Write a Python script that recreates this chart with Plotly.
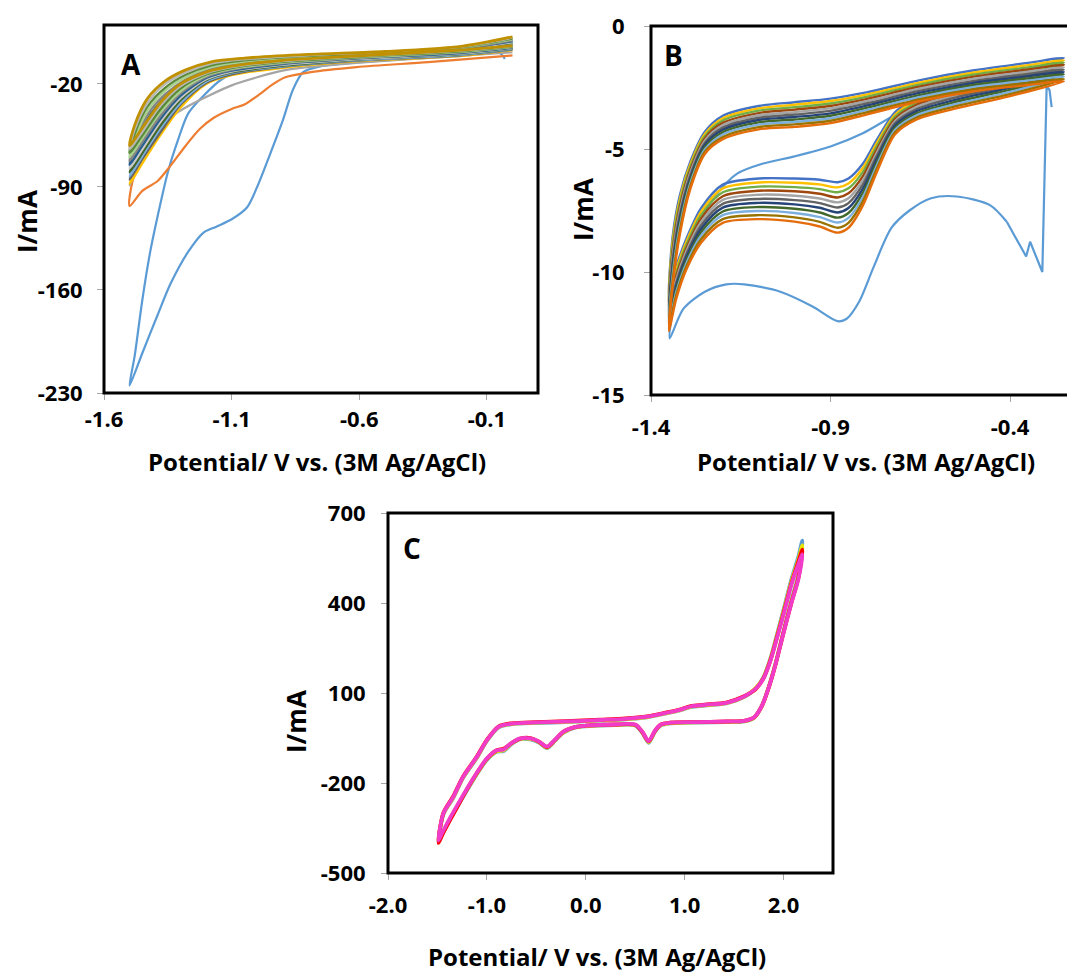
import plotly.graph_objects as go

# page is shown with an 8px body margin, so the figure is 8px smaller than the window
OFF = 8
W, H = 1075 - OFF, 974 - OFF

# ---------------- Panel A data ----------------
A_XTICKS = [-1.6, -1.1, -0.6, -0.1]
A_XTICKTEXT = ["-1.6", "-1.1", "-0.6", "-0.1"]
A_YTICKS = [-230, -160, -90, -20]
A_YTICKTEXT = ["-230", "-160", "-90", "-20"]

A_blue_x = [-0.03, -0.05, -0.2, -0.5, -0.75, -0.82, -0.86, -0.9, -0.95, -1.0, -1.04, -1.1, -1.16, -1.21, -1.27,
            -1.34, -1.39, -1.45, -1.5, -1.48, -1.45, -1.42, -1.39, -1.35, -1.31, -1.27, -1.21, -1.14, -1.05, -0.9,
            -0.6, -0.3, -0.1, 0.0]
A_blue_y = [-3, 1, -1, -4, -8, -12, -24, -45, -68, -90, -104, -112, -117, -121, -134,
            -156, -177, -203, -225, -205, -167, -135, -110, -80, -58, -40, -28, -17, -10, -5,
            0, 3, 6, 9]

A_orange_x = [0.0, -0.33, -0.61, -0.79, -0.89, -0.945, -0.99, -1.05, -1.1, -1.17, -1.225, -1.28, -1.34, -1.39,
              -1.45, -1.5, -1.488, -1.45, -1.4, -1.35, -1.3, -1.2, -1.1, -1.0, -0.8, -0.5, -0.2, 0.0]
A_orange_y = [-0.7, -5.2, -8.6, -12, -15.5, -21, -27, -34, -37, -43, -50.7, -62, -75.7, -86,
              -92.7, -103, -86, -70, -53, -40, -30, -18, -11, -7, -3.5, -0.5, 3, 6]

A_gray_x = [0.0, -0.3, -0.6, -0.82, -0.9, -1.0, -1.1, -1.19, -1.28, -1.35, -1.42, -1.47, -1.5, -1.48, -1.43,
            -1.36, -1.28, -1.18, -1.05, -0.8, -0.5, -0.2, 0.0]
A_gray_y = [1.5, -2, -5.5, -9, -11, -15.5, -21, -28, -36, -44, -62, -78, -89, -80, -60,
            -41, -28, -17.5, -10.5, -5, -1.5, 2, 6]

A_cycle_x = [0.0, -0.2, -0.6, -0.9, -1.1, -1.2, -1.3, -1.38, -1.45, -1.5,
             -1.48, -1.43, -1.36, -1.28, -1.18, -1.05, -0.8, -0.5, -0.2, 0.0]
A_cycles = [
    [3, -1, -4.5, -9, -14, -20, -36, -55, -74, -88, -79, -58, -40, -27, -17, -10, -5, -1.5, 2, 6],
    [3.3, -0.6, -4.2, -8.4, -13.5, -19.3, -34, -53, -71, -85, -76, -55, -38, -25.5, -15.8, -9.2, -4.6, -1.1, 2.3, 6.5],
    [3.6, -0.2, -3.8, -8, -12.7, -18.5, -33, -50.5, -69, -83, -73, -52.5, -35.5, -23.7, -14.6, -8.5, -4, -0.8, 2.7, 7.3],
    [3.9, 0.2, -3.4, -7.6, -12.2, -17.5, -31, -48.5, -67, -80, -70, -49.5, -33.5, -22, -13.4, -7.8, -3.5, -0.4, 3.1, 7.8],
    [4.2, 0.6, -3.1, -7, -11.6, -16.8, -29.5, -46, -64.5, -77.5, -66.5, -47, -31, -20.4, -12.2, -7, -3, -0.1, 3.4, 8.4],
    [4.5, 1, -2.7, -6.5, -11, -16, -28, -44, -62, -75, -63.5, -44, -29, -18.8, -11, -6.2, -2.5, 0.3, 3.7, 9],
    [4.8, 1.4, -2.4, -6, -10.4, -15.2, -26.5, -42, -59.5, -72.5, -60.5, -41, -27, -17, -9.8, -5.5, -2, 0.6, 4.1, 9.6],
    [5.1, 1.8, -2, -5.5, -9.8, -14.4, -25, -39.5, -57, -70, -57.5, -38.5, -24.5, -15.5, -8.6, -4.8, -1.5, 1, 4.5, 10.2],
    [5.4, 2.2, -1.7, -5, -9.2, -13.6, -23, -37.5, -55, -67, -54, -35.5, -22.5, -13.8, -7.4, -4, -1, 1.3, 4.8, 10.8],
    [5.7, 2.6, -1.3, -4.5, -8.6, -12.8, -21.5, -35, -52.5, -64.5, -51, -33, -20, -12.2, -6.2, -3.3, -0.5, 1.7, 5.2, 11.4],
    [6, 3, -1, -4, -8, -12, -20, -33, -50, -62, -48, -30, -18, -10.5, -5, -2.5, 0, 2, 5.5, 12],
]
A_cycle_colors = ["#FFC000", "#636363", "#7CAFDD", "#43682B", "#C9C9C9", "#255E91",
                  "#848484", "#A9D18E", "#5A8A39", "#B7B7B7", "#BF9000"]

# ---------------- Panel B data ----------------
B_XTICKS = [-1.4, -0.9, -0.4]
B_XTICKTEXT = ["-1.4", "-0.9", "-0.4"]
B_YTICKS = [0, -5, -10, -15]
B_YTICKTEXT = ["0", "-5", "-10", "-15"]

B_first_start_x = [-0.284, -0.29, -0.298, -0.31, -0.344, -0.355, -0.409]
B_first_start_y = [-3.3, -2.6, -2.45, -10.0, -8.77, -9.37, -7.96]
B_first_x = [-0.409, -0.456, -0.548, -0.62, -0.68, -0.73, -0.78, -0.82, -0.855, -0.88, -0.95, -1.04, -1.14,
             -1.19, -1.25, -1.31, -1.348, -1.33, -1.30, -1.26, -1.215, -1.16, -1.09, -1.0, -0.9, -0.81, -0.71,
             -0.6, -0.47, -0.35, -0.25]
B_first_y = [-7.96, -7.28, -6.93, -7.0, -7.5, -8.2, -9.8, -11.2, -11.9, -12.0, -11.4, -10.8, -10.5,
             -10.5, -10.8, -11.5, -12.7, -10.8, -9.3, -7.85, -6.8, -6.0, -5.6, -5.3, -4.9, -4.36, -3.55,
             -3.0, -2.55, -2.2, -1.9]

B_cycle_x = [-0.25, -0.4, -0.55, -0.66, -0.72, -0.77, -0.81, -0.85, -0.88, -0.93, -1.0, -1.1, -1.2, -1.26,
             -1.3, -1.33, -1.35, -1.34, -1.32, -1.29, -1.25, -1.2, -1.1, -1.0, -0.9, -0.8, -0.65, -0.5, -0.35, -0.25]
B_cycles = [
    [-1.3, -2.0, -2.45, -2.95, -3.5, -4.6, -5.6, -6.2, -6.35, -6.25, -6.2, -6.2, -6.45, -7.4, -8.6, -9.8, -11.0,
     -8.6, -6.9, -5.5, -4.3, -3.65, -3.25, -3.1, -2.95, -2.7, -2.2, -1.8, -1.5, -1.3],
    [-1.4, -2.08, -2.54, -3.03, -3.6, -4.73, -5.77, -6.4, -6.56, -6.44, -6.37, -6.36, -6.6, -7.54, -8.72, -9.93, -11.14,
     -8.8, -7.06, -5.61, -4.39, -3.75, -3.35, -3.2, -3.05, -2.79, -2.29, -1.89, -1.59, -1.4],
    [-1.49, -2.17, -2.63, -3.12, -3.68, -4.86, -5.94, -6.6, -6.76, -6.63, -6.55, -6.53, -6.76, -7.68, -8.85, -10.06, -11.28,
     -9.0, -7.22, -5.72, -4.48, -3.84, -3.44, -3.3, -3.15, -2.88, -2.37, -1.97, -1.68, -1.49],
    [-1.58, -2.25, -2.72, -3.2, -3.77, -4.99, -6.11, -6.8, -6.97, -6.82, -6.72, -6.7, -6.92, -7.82, -8.98, -10.19, -11.42,
     -9.2, -7.38, -5.83, -4.57, -3.94, -3.54, -3.4, -3.25, -2.97, -2.46, -2.06, -1.77, -1.58],
    [-1.68, -2.34, -2.81, -3.29, -3.86, -5.12, -6.28, -7.0, -7.17, -7.01, -6.9, -6.86, -7.07, -7.96, -9.1, -10.32, -11.56,
     -9.4, -7.54, -5.94, -4.66, -4.03, -3.63, -3.5, -3.35, -3.06, -2.54, -2.14, -1.86, -1.68],
    [-1.78, -2.43, -2.9, -3.38, -3.95, -5.25, -6.45, -7.2, -7.38, -7.2, -7.08, -7.03, -7.23, -8.1, -9.23, -10.45, -11.7,
     -9.6, -7.7, -6.05, -4.75, -4.13, -3.73, -3.6, -3.45, -3.15, -2.63, -2.23, -1.95, -1.78],
    [-1.87, -2.51, -2.99, -3.46, -4.04, -5.38, -6.62, -7.4, -7.58, -7.39, -7.25, -7.19, -7.38, -8.24, -9.35, -10.58, -11.84,
     -9.8, -7.86, -6.16, -4.84, -4.22, -3.82, -3.7, -3.55, -3.24, -2.71, -2.31, -2.04, -1.87],
    [-1.97, -2.6, -3.08, -3.55, -4.13, -5.51, -6.79, -7.6, -7.79, -7.58, -7.43, -7.36, -7.54, -8.38, -9.48, -10.71, -11.98,
     -10.0, -8.02, -6.27, -4.93, -4.32, -3.92, -3.8, -3.65, -3.33, -2.8, -2.4, -2.13, -1.97],
    [-2.06, -2.68, -3.17, -3.63, -4.22, -5.64, -6.96, -7.8, -7.99, -7.77, -7.6, -7.52, -7.69, -8.52, -9.6, -10.84, -12.12,
     -10.2, -8.18, -6.38, -5.02, -4.41, -4.01, -3.9, -3.75, -3.42, -2.88, -2.48, -2.22, -2.06],
    [-2.16, -2.77, -3.26, -3.72, -4.31, -5.77, -7.13, -8.0, -8.2, -7.96, -7.78, -7.69, -7.85, -8.66, -9.73, -10.97, -12.26,
     -10.4, -8.34, -6.49, -5.11, -4.51, -4.11, -4.0, -3.85, -3.51, -2.97, -2.57, -2.31, -2.16],
    [-2.25, -2.85, -3.35, -3.8, -4.4, -5.9, -7.3, -8.2, -8.4, -8.15, -7.95, -7.85, -8.0, -8.8, -9.85, -11.1, -12.4,
     -10.6, -8.5, -6.6, -5.2, -4.6, -4.2, -4.1, -3.95, -3.6, -3.05, -2.65, -2.4, -2.25],
]
B_cycle_colors = ["#4472C4", "#FFC000", "#70AD47", "#9E480E", "#A5A5A5", "#636363",
                  "#264478", "#43682B", "#7CAFDD", "#997300", "#E46C0A"]

# ---------------- Panel C data ----------------
C_XTICKS = [-2.0, -1.0, 0.0, 1.0, 2.0]
C_XTICKTEXT = ["-2.0", "-1.0", "0.0", "1.0", "2.0"]
C_YTICKS = [-500, -200, 100, 400, 700]
C_YTICKTEXT = ["-500", "-200", "100", "400", "700"]

C_x = [-1.49, -1.44, -1.34, -1.24, -1.10, -1.0, -0.88, -0.75, -0.5, -0.2, 0.15, 0.4, 0.62, 0.8, 0.95, 1.06, 1.2,
       1.43, 1.6, 1.72, 1.8, 1.87, 1.92, 2.0, 2.08, 2.15, 2.19,
       2.15, 2.08, 2.0, 1.92, 1.85, 1.78, 1.7, 1.6, 1.43, 1.1, 0.85, 0.76, 0.70, 0.636, 0.57, 0.50, 0.3, 0.0, -0.1,
       -0.225, -0.31, -0.393, -0.47, -0.56, -0.663, -0.75, -0.83, -0.9, -1.0, -1.1, -1.2, -1.27, -1.37, -1.45, -1.49]
C_blue = [-398, -305, -250, -183, -116, -60, -15, -4, 0, 3, 8, 12, 19, 31, 42, 53, 58, 66, 86, 116, 155, 218, 278, 378, 480, 555, 608,
          495, 410, 306, 200, 120, 57, 17, 5, 3, 1, -1, -8, -29, -66, -32, -8, -7, -11, -15, -32, -59, -84, -66, -55, -54, -70,
          -93, -96, -123, -170, -224, -263, -320, -370, -398]
C_yellow = [-396, -303, -248, -181, -114, -58, -13, -3, 1, 4, 9, 13, 20, 32, 43, 54, 59, 67, 87, 117, 153, 215, 274, 372, 472, 545, 592,
            488, 405, 303, 198, 119, 56, 17, 6, 4, 2, 0, -7, -27, -64, -30, -7, -6, -10, -14, -31, -57, -82, -64, -53, -53, -68,
            -91, -94, -121, -168, -221, -260, -318, -368, -396]
C_red = [-400, -300, -244, -178, -111, -56, -11, -1, 3, 6, 11, 15, 22, 34, 45, 56, 61, 69, 89, 114, 151, 212, 270, 366, 466, 538, 578,
         484, 402, 302, 197, 118, 56, 18, 7, 5, 3, 1, -5, -26, -61, -29, -6, -5, -9, -13, -29, -56, -80, -63, -50, -52, -67,
         -86, -91, -119, -166, -220, -262, -322, -372, -400]
C_magenta = [-392, -301, -246, -179, -112, -57, -12, -2, 2, 5, 10, 14, 21, 33, 44, 55, 60, 68, 88, 115, 150, 210, 267, 362, 462, 530, 562,
             480, 400, 300, 196, 118, 56, 18, 7, 5, 3, 1, -5, -25, -60, -28, -5, -5, -9, -13, -29, -55, -79, -62, -51, -51, -66,
             -88, -91, -118, -165, -218, -257, -315, -365, -392]
C_series = [C_blue, C_yellow, C_red, C_magenta]
C_colors = ["#5B9BD5", "#E6E600", "#FF0000", "#F03CC8"]

AX_TITLE = "Potential/ V vs. (3M Ag/AgCl)"
Y_TITLE = "I/mA"

# ---------------- Figure ----------------
fig = go.Figure()


def line(x, y, color, width, xa, ya, shape="spline"):
    fig.add_trace(go.Scatter(x=x, y=y, mode="lines", xaxis=xa, yaxis=ya,
                             line=dict(color=color, width=width, shape=shape, smoothing=0.8),
                             hoverinfo="skip", showlegend=False))


line(A_blue_x, A_blue_y, "#5B9BD5", 2.2, "x", "y")
line(A_orange_x, A_orange_y, "#ED7D31", 2.2, "x", "y")
line(A_gray_x, A_gray_y, "#A5A5A5", 2.2, "x", "y")
for ys, c in zip(A_cycles, A_cycle_colors):
    line(A_cycle_x, ys, c, 2.8 if c == "#BF9000" else 2.4, "x", "y")

line(B_first_start_x, B_first_start_y, "#5B9BD5", 2.2, "x2", "y2", shape="linear")
line(B_first_x, B_first_y, "#5B9BD5", 2.2, "x2", "y2")
for ys, c in zip(B_cycles, B_cycle_colors):
    line(B_cycle_x, ys, c, 2.4, "x2", "y2")

for ys, c in zip(C_series, C_colors):
    line(C_x, ys, c, 3.8, "x3", "y3")

FONT = "Open Sans"
tickfont = dict(family=FONT, size=22, color="#000000", weight="bold")
common = dict(showgrid=False, zeroline=False, showline=False, ticks="outside", ticklen=6,
              tickcolor="#A6A6A6", tickwidth=1, tickfont=tickfont, tickmode="array", automargin=False,
              ticklabeloverflow="allow")


def fx(px):
    return (px - OFF) / W


def fy(py):
    return 1 - (py - OFF) / H


fig.update_layout(
    width=W, height=H, margin=dict(l=0, r=0, t=0, b=0, pad=0, autoexpand=False),
    paper_bgcolor="white", plot_bgcolor="white", showlegend=False,
    xaxis=dict(domain=[fx(104), fx(538)], range=[-1.6, 0.1], anchor="y",
               tickvals=A_XTICKS, ticktext=A_XTICKTEXT, ticklabelstandoff=1, **common),
    yaxis=dict(domain=[fy(393), fy(25)], range=[-230, 20], anchor="x",
               tickvals=A_YTICKS, ticktext=A_YTICKTEXT, ticklabelstandoff=10, **common),
    xaxis2=dict(domain=[fx(651), 1.0], range=[-1.4, -0.219], anchor="y2",
                tickvals=B_XTICKS, ticktext=B_XTICKTEXT, ticklabelstandoff=7, **common),
    yaxis2=dict(domain=[fy(395), fy(26)], range=[-15, 0], anchor="x2",
                tickvals=B_YTICKS, ticktext=B_YTICKTEXT, ticklabelstandoff=15, **common),
    xaxis3=dict(domain=[fx(388), fx(833)], range=[-2, 2.5], anchor="y3",
                tickvals=C_XTICKS, ticktext=C_XTICKTEXT, ticklabelstandoff=7, **common),
    yaxis3=dict(domain=[fy(873), fy(513)], range=[-500, 700], anchor="x3",
                tickvals=C_YTICKS, ticktext=C_YTICKTEXT, ticklabelstandoff=11, **common),
)

# plot-area borders
for xr, yr, x1 in [("x domain", "y domain", 1), ("x2 domain", "y2 domain", 1.02), ("x3 domain", "y3 domain", 1)]:
    fig.add_shape(type="rect", xref=xr, yref=yr, x0=0, x1=x1, y0=0, y1=1,
                  line=dict(color="black", width=3), layer="above")

titlefont = dict(family=FONT, size=24, color="#000000", weight="bold")
ytitlefont = dict(family=FONT, size=26, color="#000000", weight="bold")
letterfont = dict(family=FONT, size=28, color="#000000", weight="bold")
ann = [
    (317, 461, AX_TITLE, 0, titlefont),
    (866, 461, AX_TITLE, 0, titlefont),
    (597, 956, AX_TITLE, 0, titlefont),
    (27, 222, Y_TITLE, -90, ytitlefont),
    (583, 210, Y_TITLE, -90, ytitlefont),
    (296, 722, Y_TITLE, -90, ytitlefont),
    (131, 64, "A", 0, letterfont),
    (673, 55, "B", 0, letterfont),
    (412, 548, "C", 0, letterfont),
]
for px, py, txt, ang, f in ann:
    fig.add_annotation(x=fx(px), y=fy(py), xref="paper", yref="paper", text=txt, textangle=ang,
                       showarrow=False, font=f, xanchor="center", yanchor="middle")

fig.write_html("out.html")
